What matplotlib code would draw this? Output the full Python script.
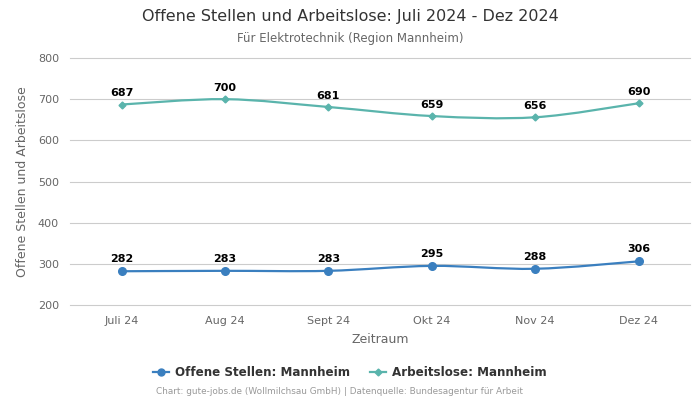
import matplotlib
matplotlib.use("Agg")
import matplotlib.pyplot as plt
from matplotlib.path import Path
from matplotlib.patches import PathPatch
import numpy as np

monate = ['Juli 24', 'Aug 24', 'Sept 24', 'Okt 24', 'Nov 24', 'Dez 24']
offene_stellen = [282, 283, 283, 295, 288, 306]
arbeitslose = [687, 700, 681, 659, 656, 690]

blau = '#3a7fbf'
tuerkis = '#5ab4ac'


def glatte_linie(ax, xs, ys, farbe):
    # Spline als Bezier-Kurve durch die Punkte (nur Darstellung)
    xs = np.asarray(xs, float)
    ys = np.asarray(ys, float)
    n = len(xs)
    verts = [(xs[0], ys[0])]
    codes = [Path.MOVETO]
    k = 6.0
    for i in range(n - 1):
        x0, y0 = xs[max(i - 1, 0)], ys[max(i - 1, 0)]
        x1, y1 = xs[i], ys[i]
        x2, y2 = xs[i + 1], ys[i + 1]
        x3, y3 = xs[min(i + 2, n - 1)], ys[min(i + 2, n - 1)]
        c1 = (x1 + (x2 - x0) / k, y1 + (y2 - y0) / k)
        c2 = (x2 - (x3 - x1) / k, y2 - (y3 - y1) / k)
        verts += [c1, c2, (x2, y2)]
        codes += [Path.CURVE4] * 3
    ax.add_patch(PathPatch(Path(verts, codes), fill=False, edgecolor=farbe, lw=1.6, zorder=3))


fig = plt.figure(figsize=(7, 4), dpi=100)
ax = fig.add_axes([0.1, 0.2375, 0.886, 0.6175])

x = np.arange(len(monate))
glatte_linie(ax, x, offene_stellen, blau)
glatte_linie(ax, x, arbeitslose, tuerkis)
ax.plot(x, offene_stellen, 'o', color=blau, ms=5.5, zorder=4)
ax.plot(x, arbeitslose, 'D', color=tuerkis, ms=3.5, zorder=4)

for xi, v in zip(x, offene_stellen):
    ax.annotate(str(v), (xi, v), xytext=(0, 5), textcoords='offset points',
                ha='center', va='bottom', fontsize=8, fontweight='bold', color='black')
for xi, v in zip(x, arbeitslose):
    ax.annotate(str(v), (xi, v), xytext=(0, 4.5), textcoords='offset points',
                ha='center', va='bottom', fontsize=8, fontweight='bold', color='black')

ax.set_xlim(-0.5, len(monate) - 0.5)
ax.set_ylim(200, 800)
ax.set_yticks(range(200, 801, 100))
ax.set_xticks(x)
ax.set_xticklabels(monate)
ax.tick_params(axis='both', length=0, labelsize=8, colors='#666666', pad=8)
ax.grid(axis='y', color='#cccccc', lw=0.8)
for gl in ax.get_ygridlines():
    gl.set_clip_on(False)
ax.set_axisbelow(True)
for s in ax.spines.values():
    s.set_visible(False)

ax.set_xlabel('Zeitraum', fontsize=9, color='#666666', labelpad=5)
ax.set_ylabel('Offene Stellen und Arbeitslose', fontsize=9, color='#666666', labelpad=6)

fig.text(0.5, 0.958, 'Offene Stellen und Arbeitslose: Juli 2024 - Dez 2024',
         ha='center', va='center', fontsize=11.5, color='#333333')
fig.text(0.5, 0.903, 'Für Elektrotechnik (Region Mannheim)',
         ha='center', va='center', fontsize=8.5, color='#666666')

h1, = ax.plot([], [], '-o', color=blau, ms=5, lw=1.6)
h2, = ax.plot([], [], '-D', color=tuerkis, ms=3.5, lw=1.6)
leg = fig.legend([h1, h2], ['Offene Stellen: Mannheim', 'Arbeitslose: Mannheim'],
                 loc='center', bbox_to_anchor=(0.5, 0.068), ncol=2, frameon=False,
                 prop={'size': 8.6, 'weight': 'bold'}, handlelength=1.3, columnspacing=1.7,
                 handletextpad=0.5)
for t in leg.get_texts():
    t.set_color('#333333')

fig.text(0.485, 0.02, 'Chart: gute-jobs.de (Wollmilchsau GmbH) | Datenquelle: Bundesagentur für Arbeit',
         ha='center', va='center', fontsize=6.4, color='#999999')

fig.savefig('out.png', dpi=100)
